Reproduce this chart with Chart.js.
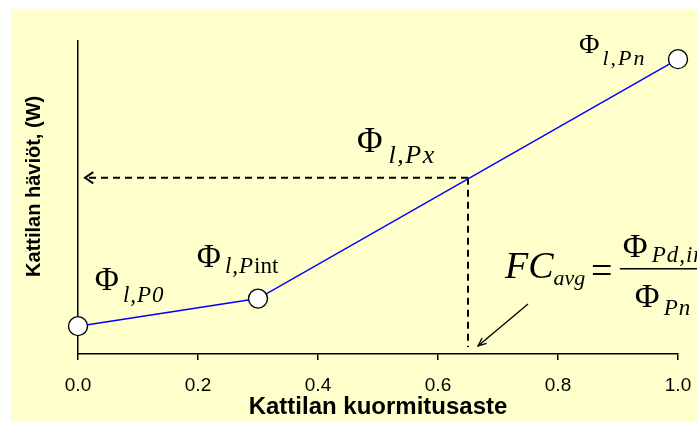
<!DOCTYPE html>
<html lang="fi">
<head>
    <meta charset="UTF-8">
    <title>Kattilan häviöt</title>
    <script src="https://cdn.jsdelivr.net/npm/chart.js"></script>
    <style>
        html, body { margin: 0; padding: 0; background: #ffffff; }
        #wrap { width: 697px; height: 423px; position: relative; }
    </style>
</head>
<body>
    <div id="wrap"><canvas id="lossChart"></canvas></div>

    <script>
        // Boiler load ratio (x) and boiler losses (y, arbitrary W scale)
        const loadRatio = [0.0, 0.3, 1.0];
        const lossValues = [8.9, 17.7, 94.2];

        // Read-off point for an intermediate load
        const markLoad = 0.65;
        const markLoss = 56.3;

        const xTicks = [0.0, 0.2, 0.4, 0.6, 0.8, 1.0];
        const xTitle = 'Kattilan kuormitusaste';
        // leading spaces nudge the rotated title a bit upwards, like the original
        const yTitle = '    Kattilan häviöt, (W)';

        const SERIF = '"Liberation Serif", "Times New Roman", serif';
        const SANS = '"Liberation Sans", Arial, sans-serif';

        // yellow panel behind the plot
        const panelBg = {
            id: 'panelBg',
            beforeDraw(chart) {
                const ctx = chart.ctx;
                ctx.save();
                ctx.fillStyle = '#ffffcc';
                ctx.fillRect(11, 9, chart.width - 11, chart.height - 10);
                ctx.restore();
            }
        };

        function arrowHead(ctx, tx, ty, fromX, fromY, len, spread) {
            const a = Math.atan2(fromY - ty, fromX - tx);
            ctx.beginPath();
            ctx.moveTo(tx + len * Math.cos(a - spread), ty + len * Math.sin(a - spread));
            ctx.lineTo(tx, ty);
            ctx.lineTo(tx + len * Math.cos(a + spread), ty + len * Math.sin(a + spread));
            ctx.stroke();
        }

        // draws text runs one after another; each run: [text, font, dy, spacing, gapAfter]
        function runs(ctx, x, y, parts) {
            let cx = x;
            parts.forEach(p => {
                ctx.font = p[1];
                ctx.letterSpacing = (p[3] || 0) + 'px';
                ctx.fillText(p[0], cx, y + (p[2] || 0));
                cx += ctx.measureText(p[0]).width + (p[4] || 0);
            });
            ctx.letterSpacing = '0px';
        }

        const annotations = {
            id: 'annotations',
            afterDatasetsDraw(chart) {
                const ctx = chart.ctx;
                const xs = chart.scales.x, ys = chart.scales.y;
                const px = v => xs.getPixelForValue(v);
                const py = v => ys.getPixelForValue(v);
                ctx.save();
                ctx.strokeStyle = '#000';
                ctx.fillStyle = '#000';
                ctx.textBaseline = 'alphabetic';
                ctx.textAlign = 'left';

                // arrow head of the dashed read-off line
                ctx.lineWidth = 2;
                arrowHead(ctx, px(0.0117), py(markLoss), px(0.1), py(markLoss), 10, 0.6);

                // pointer to the x axis
                ctx.lineWidth = 1.3;
                ctx.beginPath();
                ctx.moveTo(px(0.75), py(16.0));
                ctx.lineTo(px(0.6667), py(2.56));
                ctx.stroke();
                arrowHead(ctx, px(0.6667), py(2.56), px(0.75), py(16.0), 9, 0.4);

                const it = s => 'italic ' + s + 'px ' + SERIF;
                const up = s => s + 'px ' + SERIF;

                runs(ctx, px(0.028), py(20.4), [
                    ['Φ', up(33), 0, 0, 4], ['l,P0', it(23), 12, 1]
                ]);
                runs(ctx, px(0.198), py(27.8), [
                    ['Φ', up(33), 0, 0, 4], ['l,P', it(23), 6, 1], ['int', up(23), 6, 0]
                ]);
                runs(ctx, px(0.465), py(64.5), [
                    ['Φ', up(35), 0, 0, 6], ['l,Px', it(26), 11, 1.5]
                ]);
                runs(ctx, px(0.835), py(96.2), [
                    ['Φ', up(28), 0, 0, 3], ['l,Pn', it(22), 12, 2]
                ]);

                // FC_avg = Φ_Pd,in / Φ_Pn
                runs(ctx, px(0.7117), py(24.3), [
                    ['FC', it(38), 0, 0, 0], ['avg', it(22), 7, 0]
                ]);
                runs(ctx, px(0.855), py(22.8), [['=', up(38), 0, 0]]);
                ctx.lineWidth = 1.5;
                ctx.beginPath();
                ctx.moveTo(px(0.903), py(27.2));
                ctx.lineTo(chart.width, py(27.2));
                ctx.stroke();
                runs(ctx, px(0.908), py(31.0), [
                    ['Φ', up(34), 0, 0, 4], ['Pd,in', it(23), 5, 1]
                ]);
                runs(ctx, px(0.928), py(15.0), [
                    ['Φ', up(34), 0, 0, 4], ['Pn', it(23), 8, 1]
                ]);
                ctx.restore();
            }
        };

        const ctx = document.getElementById('lossChart').getContext('2d');
        new Chart(ctx, {
            type: 'scatter',
            data: {
                datasets: [{
                    label: 'Häviöt',
                    data: loadRatio.map((v, i) => ({ x: v, y: lossValues[i] })),
                    showLine: true,
                    clip: false,
                    borderColor: '#0000ff',
                    borderWidth: 1.5,
                    pointRadius: 9.5,
                    pointBackgroundColor: '#ffffff',
                    pointBorderColor: '#000000',
                    pointBorderWidth: 1.4
                }, {
                    label: 'vaaka',
                    data: [{ x: markLoad, y: markLoss }, { x: 0.0117, y: markLoss }],
                    showLine: true,
                    borderColor: '#000',
                    borderWidth: 2,
                    borderDash: [7, 5],
                    pointRadius: 0
                }, {
                    label: 'pysty',
                    data: [{ x: markLoad, y: markLoss }, { x: markLoad, y: 2.2 }],
                    showLine: true,
                    borderColor: '#000',
                    borderWidth: 2,
                    borderDash: [7, 5],
                    pointRadius: 0
                }]
            },
            options: {
                responsive: true,
                maintainAspectRatio: false,
                animation: false,
                layout: { padding: { top: 41, right: 19, left: 0, bottom: 0 } },
                plugins: {
                    legend: { display: false },
                    tooltip: { enabled: false }
                },
                scales: {
                    x: {
                        type: 'linear',
                        min: 0,
                        max: 1,
                        afterBuildTicks: s => { s.ticks = xTicks.map(v => ({ value: v })); },
                        afterFit: s => {
                            s.height = 69;
                            s.paddingLeft = 0;
                            s.paddingRight = 0;
                        },
                        ticks: {
                            color: '#000',
                            padding: 14,
                            font: { family: SANS, size: 19 },
                            callback: v => v.toFixed(1)
                        },
                        grid: {
                            drawOnChartArea: false,
                            drawTicks: true,
                            tickLength: 6,
                            color: '#000',
                            lineWidth: 1.5
                        },
                        border: { display: true, color: '#000', width: 1.5 },
                        title: {
                            display: true,
                            text: xTitle,
                            color: '#000',
                            font: { family: SANS, size: 24, weight: 'bold' },
                            padding: { top: 0, bottom: 1 }
                        }
                    },
                    y: {
                        type: 'linear',
                        min: 0,
                        max: 100,
                        afterFit: s => { s.width = 78; },
                        ticks: { display: false },
                        grid: { drawOnChartArea: false, drawTicks: false },
                        border: { display: true, color: '#000', width: 1.5 },
                        title: {
                            display: true,
                            text: yTitle,
                            color: '#000',
                            font: { family: SANS, size: 20, weight: 'bold' },
                            padding: { top: 22, bottom: 0 }
                        }
                    }
                }
            },
            plugins: [panelBg, annotations]
        });
    </script>
</body>
</html>
